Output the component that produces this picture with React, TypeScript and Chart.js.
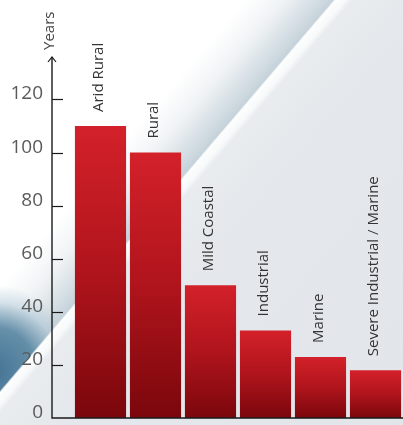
import React, { useEffect, useRef } from "react";
import { Chart, registerables } from "chart.js";

Chart.register(...registerables);

const categories = ["Arid Rural", "Rural", "Mild Coastal", "Industrial", "Marine", "Severe Industrial / Marine"];
const years = [110, 100, 50, 33, 23, 18];
const tickValues = [0, 20, 40, 60, 80, 100, 120];
const axisTitle = "Years";

const FONT = "'Open Sans', sans-serif";

const decorPlugin = {
  id: "decor",
  afterDatasetsDraw(chart: any) {
    const { ctx, chartArea } = chart;
    const yScale = chart.scales.y;
    const axisX = chartArea.left - 21;
    const bottom = yScale.getPixelForValue(0);
    const top = chartArea.top;
    ctx.save();
    // axis lines
    ctx.strokeStyle = "#1a1a1a";
    ctx.lineWidth = 1.4;
    ctx.beginPath();
    ctx.moveTo(axisX, top);
    ctx.lineTo(axisX, bottom);
    ctx.lineTo(chartArea.right, bottom);
    ctx.stroke();
    // arrow head
    ctx.lineWidth = 1.2;
    ctx.beginPath();
    ctx.moveTo(axisX - 4, top + 5);
    ctx.lineTo(axisX, top);
    ctx.lineTo(axisX + 4, top + 5);
    ctx.stroke();
    // tick marks + tick labels
    ctx.fillStyle = "#5a5a5a";
    ctx.font = `19px ${FONT}`;
    ctx.textAlign = "right";
    ctx.textBaseline = "middle";
    tickValues.forEach((v) => {
      const py = Math.round(yScale.getPixelForValue(v)) + 0.5;
      ctx.fillText(String(v), axisX - 9, py - 6);
      if (v === 0) return;
      ctx.beginPath();
      ctx.moveTo(axisX, py);
      ctx.lineTo(axisX + 11, py);
      ctx.stroke();
    });
    // axis title
    ctx.fillStyle = "#444";
    ctx.font = `15px ${FONT}`;
    ctx.translate(axisX - 2, top - 7);
    ctx.rotate(-Math.PI / 2);
    ctx.textAlign = "left";
    ctx.textBaseline = "middle";
    ctx.fillText(axisTitle, 0, 0);
    ctx.restore();

    // category labels above bars
    const meta = chart.getDatasetMeta(0);
    meta.data.forEach((bar: any, i: number) => {
      ctx.save();
      ctx.fillStyle = "#333";
      ctx.font = `15px ${FONT}`;
      ctx.translate(bar.x - 2, bar.y - 14);
      ctx.rotate(-Math.PI / 2);
      ctx.textAlign = "left";
      ctx.textBaseline = "middle";
      ctx.fillText(categories[i], 0, 0);
      ctx.restore();
    });
  },
};

export default function App() {
  const ref = useRef<HTMLCanvasElement | null>(null);
  useEffect(() => {
    if (!ref.current) return;
    const chart = new Chart(ref.current, {
      type: "bar",
      data: {
        labels: categories,
        datasets: [
          {
            data: years,
            backgroundColor: (c: any) => {
              const chart = c.chart;
              if (!chart.chartArea || c.type !== "data") return "#b3141c";
              const y = chart.scales.y;
              const t = y.getPixelForValue(c.raw);
              const b = y.getPixelForValue(0);
              const g = chart.ctx.createLinearGradient(0, t, 0, b);
              g.addColorStop(0, "#d3212a");
              g.addColorStop(0.5, "#b0141c");
              g.addColorStop(1, "#7a070c");
              return g;
            },
            borderWidth: 0,
            barPercentage: 0.93,
            categoryPercentage: 1,
          },
        ],
      },
      options: {
        responsive: false,
        animation: false,
        layout: { padding: { top: 57, bottom: 7, left: 0, right: 0 } },
        plugins: { legend: { display: false }, tooltip: { enabled: false } },
        scales: {
          x: { display: false, offset: true },
          y: {
            min: 0,
            max: 136,
            afterBuildTicks: (scale: any) => {
              scale.ticks = tickValues.map((v) => ({ value: v }));
            },
            afterFit: (scale: any) => {
              scale.width = 73;
            },
            grid: { display: false, drawTicks: false },
            border: { display: false },
            ticks: { display: false, padding: 0 },
          },
        },
      },
      plugins: [decorPlugin],
    });
    return () => chart.destroy();
  }, []);

  const bg = [
    "linear-gradient(130.5deg, rgba(0,0,0,0) 0%, rgba(0,0,0,0) 43.5%, #fdfefe 43.8%, #f7f9fa 45.1%, #e9ecef 46%, #e4e7eb 56%, #e2e5ea 100%)",
    "radial-gradient(ellipse 80px 85px at -5px 370px, rgba(68,116,148,1) 0%, rgba(88,134,162,0.9) 50%, rgba(160,190,208,0.4) 80%, rgba(190,208,220,0) 100%)",
    "linear-gradient(130.5deg, #ffffff 0%, #ffffff 32%, #f0f3f5 37%, #d3dde3 41.5%, #c6d2da 43.5%)",
  ].join(", ");

  return (
    <div
      style={{
        position: "absolute",
        left: 0,
        top: 0,
        width: 403,
        height: 425,
        background: bg,
      }}
    >
      <canvas ref={ref} width={403} height={425} style={{ display: "block" }} />
    </div>
  );
}
